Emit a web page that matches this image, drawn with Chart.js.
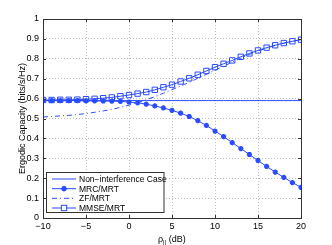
<!DOCTYPE html>
<html>
<head>
<meta charset="utf-8">
<script src="https://cdn.jsdelivr.net/npm/chart.js@4"></script>
<style>
  body { margin: 0; background: #fff; }
  #wrap { position: relative; width: 332px; height: 245px; }
</style>
</head>
<body>
<div id="wrap"><canvas id="chart" width="332" height="245"></canvas></div>
<script>
// data (rho in dB, capacity in bits/s/Hz)
const snrDb = [-10,-9,-8,-7,-6,-5,-4,-3,-2,-1,0,1,2,3,4,5,6,7,8,9,10,11,12,13,14,15,16,17,18,19,20];
const nonInterference = 0.59;
const mrcMrt = [0.590,0.590,0.590,0.590,0.590,0.589,0.589,0.588,0.587,0.586,0.583,0.579,0.572,0.563,0.553,0.541,0.527,0.510,0.489,0.465,0.437,0.409,0.379,0.349,0.319,0.289,0.259,0.231,0.204,0.178,0.154];
const zfMrt = [0.508,0.510,0.513,0.516,0.520,0.525,0.531,0.538,0.546,0.556,0.567,0.580,0.594,0.610,0.627,0.645,0.663,0.682,0.702,0.722,0.743,0.763,0.783,0.803,0.822,0.839,0.854,0.867,0.878,0.888,0.896];
const mmseMrt = [0.593,0.593,0.594,0.594,0.595,0.597,0.599,0.602,0.606,0.612,0.618,0.625,0.633,0.644,0.657,0.670,0.686,0.702,0.720,0.739,0.758,0.775,0.792,0.810,0.827,0.842,0.856,0.868,0.879,0.888,0.896];
const legendLabels = ['Non\u2212interference Case', 'MRC/MRT', 'ZF/MRT', 'MMSE/MRT'];

const blue = '#2a4bff';
const font = 'Liberation Sans, Arial, sans-serif';

// pairs x with y for the linear x axis
const toPoints = ys => snrDb.map((x, i) => ({ x: x, y: ys[i] }));

// box, inward ticks, x title with subscript and the matlab style legend
const matlabFrame = {
  id: 'matlabFrame',
  afterDraw(chart) {
    const ctx = chart.ctx;
    const a = chart.chartArea;
    const xs = chart.scales.x, ys = chart.scales.y;
    ctx.save();
    ctx.strokeStyle = '#333';
    ctx.lineWidth = 1;
    ctx.strokeRect(Math.round(a.left) + 0.5, Math.round(a.top) + 0.5,
                   Math.round(a.right - a.left), Math.round(a.bottom - a.top));
    ctx.beginPath();
    xs.ticks.forEach(t => {
      const px = Math.round(xs.getPixelForValue(t.value)) + 0.5;
      ctx.moveTo(px, a.bottom); ctx.lineTo(px, a.bottom - 3);
      ctx.moveTo(px, a.top); ctx.lineTo(px, a.top + 3);
    });
    ys.ticks.forEach(t => {
      const py = Math.round(ys.getPixelForValue(t.value)) + 0.5;
      ctx.moveTo(a.left, py); ctx.lineTo(a.left + 3, py);
      ctx.moveTo(a.right, py); ctx.lineTo(a.right - 3, py);
    });
    ctx.stroke();

    // x axis title: rho with a || subscript
    ctx.fillStyle = '#000';
    ctx.textBaseline = 'alphabetic';
    ctx.textAlign = 'left';
    const tx = 158, ty = 242;
    ctx.font = '9px ' + font;
    ctx.fillText('\u03c1', tx, ty);
    const rw = ctx.measureText('\u03c1').width;
    ctx.font = '6px ' + font;
    ctx.fillText('||', tx + rw, ty + 2);
    const sw = ctx.measureText('||').width;
    ctx.font = '9px ' + font;
    ctx.fillText(' (dB)', tx + rw + sw, ty);

    // legend
    const lx = 46.5, ly = 172.5, lw = 117.5, lh = 40;
    ctx.fillStyle = '#fff';
    ctx.fillRect(lx, ly, lw, lh);
    ctx.strokeStyle = '#333';
    ctx.strokeRect(lx, ly, lw, lh);
    const rows = [179, 188.7, 198.3, 208];
    chart.data.datasets.forEach((ds, i) => {
      const y = rows[i];
      ctx.strokeStyle = blue;
      ctx.lineWidth = 1;
      ctx.setLineDash(ds.borderDash || []);
      ctx.beginPath();
      ctx.moveTo(52, y); ctx.lineTo(76, y);
      ctx.stroke();
      ctx.setLineDash([]);
      if (ds.pointRadius > 0) {
        if (ds.pointStyle === 'rect') {
          const s = ds.pointRadius * Math.SQRT1_2;
          ctx.fillStyle = '#fff';
          ctx.fillRect(64 - s, y - s, 2 * s, 2 * s);
          ctx.strokeRect(64 - s, y - s, 2 * s, 2 * s);
        } else {
          ctx.lineWidth = ds.pointBorderWidth;
          Chart.helpers.drawPoint(ctx, {
            pointStyle: ds.pointStyle, radius: ds.pointRadius,
            borderWidth: ds.pointBorderWidth, rotation: 0
          }, 64, y);
          ctx.stroke();
          ctx.lineWidth = 1;
        }
      }
      ctx.fillStyle = '#000';
      ctx.font = '8.5px ' + font;
      ctx.textBaseline = 'middle';
      ctx.fillText(legendLabels[i], 79, y + 0.5);
    });
    ctx.restore();
  }
};

const ctx = document.getElementById('chart').getContext('2d');
new Chart(ctx, {
  type: 'line',
  data: {
    datasets: [{
      label: legendLabels[0],
      data: toPoints(snrDb.map(() => nonInterference)),
      borderColor: blue, borderWidth: 1,
      pointRadius: 0
    }, {
      label: legendLabels[1],
      data: toPoints(mrcMrt),
      borderColor: blue, borderWidth: 1,
      pointStyle: 'star', pointRadius: 2.6, pointBorderWidth: 1.6,
      pointBorderColor: blue, pointBackgroundColor: blue
    }, {
      label: legendLabels[2],
      data: toPoints(zfMrt),
      borderColor: blue, borderWidth: 1,
      borderDash: [5, 3, 1, 3],
      pointRadius: 0
    }, {
      label: legendLabels[3],
      data: toPoints(mmseMrt),
      borderColor: blue, borderWidth: 1,
      pointStyle: 'rect', pointRadius: 3.8, pointBorderWidth: 1,
      pointBorderColor: blue, pointBackgroundColor: 'rgba(0,0,0,0)'
    }]
  },
  options: {
    responsive: false,
    animation: false,
    events: [],
    layout: { padding: { left: 0, right: 31, top: 19, bottom: 0 } },
    plugins: { legend: { display: false }, tooltip: { enabled: false } },
    scales: {
      x: {
        type: 'linear', min: -10, max: 20,
        ticks: {
          stepSize: 5, padding: 3, color: '#000',
          font: { family: font, size: 9 },
          callback: v => String(v).replace('-', '\u2212')
        },
        grid: { drawTicks: false, color: '#bdbdbd', lineWidth: 1 },
        border: { display: false, dash: [1, 2] },
        afterFit: s => { s.height = 27; }
      },
      y: {
        min: 0, max: 1,
        ticks: {
          stepSize: 0.1, padding: 4, color: '#000',
          font: { family: font, size: 9 },
          callback: v => String(Math.round(v * 10) / 10)
        },
        grid: { drawTicks: false, color: '#bdbdbd', lineWidth: 1 },
        border: { display: false, dash: [1, 2] },
        title: {
          display: true, text: 'Ergodic Capacity (bits/s/Hz)', color: '#000',
          font: { family: font, size: 9 }, padding: { top: 17, bottom: 0 }
        },
        afterFit: s => { s.width = 43; }
      }
    }
  },
  plugins: [matlabFrame]
});
</script>
</body>
</html>
